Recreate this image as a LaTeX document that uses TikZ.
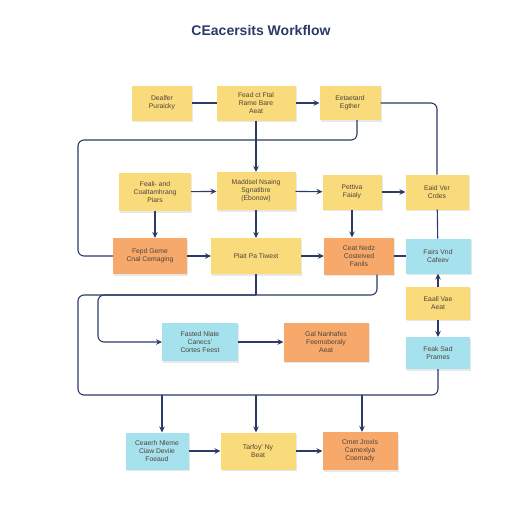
\documentclass[tikz,border=0pt]{standalone}
\usepackage{fontspec}
\setmainfont{Liberation Sans}
\usetikzlibrary{shadows,arrows.meta}

\definecolor{boxyellow}{HTML}{FADB7C}
\definecolor{boxorange}{HTML}{F7A96C}
\definecolor{boxcyan}{HTML}{A6E2EE}
\definecolor{linenavy}{HTML}{2B3A68}
\definecolor{textgray}{HTML}{4E4338}

\begin{document}
\begin{tikzpicture}[
    x=1pt, y=-1pt,
  box/.style = {
        rectangle, align=center, inner sep=2pt, outer sep=0pt,
        font=\fontsize{6.8}{7.8}\selectfont, text=textgray,
        drop shadow={opacity=0.18, shadow xshift=1.3pt, shadow yshift=-1.6pt}},
 ybox/.style = {box, fill=boxyellow},
 obox/.style = {box, fill=boxorange},
 cbox/.style = {box, fill=boxcyan},
 link/.style = {linenavy, line width=1.1pt, rounded corners=6pt},
arrow/.style = {link, -{Stealth[length=6pt,width=5.5pt]}}
                    ]
\useasboundingbox (0,0) rectangle (512,512);
% the title
\node (title) at (261,30) [font=\fontsize{14}{16}\selectfont\bfseries, text=linenavy]
                {CEacersits Workflow};
% the first row
\node (n1a) [ybox, minimum width=60pt, minimum height=35pt] at (162,103)
                {Dealfer\\Puraicky};
\node (n1b) [ybox, minimum width=79pt, minimum height=35pt] at (256,103)
                {Fead ct Ftal\\Rame Bare\\Aeat};
\node (n1c) [ybox, minimum width=61pt, minimum height=34pt] at (350,103)
                {Eetaetard\\Egther};
% the second row
\node (n2a) [ybox, minimum width=72pt, minimum height=38pt] at (155,192)
                {Feali- and\\Coaltamhrang\\Piars};
\node (n2b) [ybox, minimum width=79pt, minimum height=38pt] at (256,191)
                {Maddsel Nsaing\\Sgnatibre\\(Ebonow)};
\node (n2c) [ybox, minimum width=59pt, minimum height=35pt] at (352,192)
                {Pettiva\\Faialy};
\node (n2d) [ybox, minimum width=63pt, minimum height=35pt] at (437,192)
                {Eaid Ver\\Crdes};
% the third row
\node (n3a) [obox, minimum width=74pt, minimum height=36pt] at (150,256)
                {Fepd Geme\\Cnal Cemaging};
\node (n3b) [ybox, minimum width=90pt, minimum height=36pt] at (256,256)
                {Plait Pa Tiwext};
\node (n3c) [obox, minimum width=70pt, minimum height=37pt] at (359,256)
                {Ceat Nedz\\Costeived\\Fanils};
\node (n3d) [cbox, minimum width=65pt, minimum height=35pt] at (438,256)
                {Fairs Vnd\\Cafeev};
% the right column
\node (n4d) [ybox, minimum width=64pt, minimum height=33pt] at (438,303)
                {Eaall Vae\\Aeat};
\node (n5d) [cbox, minimum width=64pt, minimum height=32pt] at (438,353)
                {Feak Sad\\Prames};
% the middle row
\node (n4a) [cbox, minimum width=76pt, minimum height=38pt] at (200,342)
                {Fasted Nlate\\Canecs'\\Cortes Feest};
\node (n4b) [obox, minimum width=85pt, minimum height=39pt] at (326,342)
                {Gal Nanhafes\\Feemoberaly\\Aeat};
% the last row
\node (n6a) [cbox, minimum width=63pt, minimum height=37pt] at (157,451)
                {Ceaerh Nleme\\Ciaw Deviie\\Foeaud};
\node (n6b) [ybox, minimum width=75pt, minimum height=37pt] at (258,451)
                {Tarfoy' Ny\\Beat};
\node (n6c) [obox, minimum width=75pt, minimum height=38pt] at (360,451)
                {Cmet Jroxls\\Camexlya\\Coemady};
% points where the lines split
\coordinate (j1) at (256,295);
\coordinate (lb) at (78,395);
% lines of the first rows
\draw[link]  (n1a) -- (n1b);
\draw[arrow] (n1b) -- (n1c);
\draw[arrow] (n1b) -- (n2b);
\draw[link]  (n1c.east) -| (n2d.north);
\draw[link]  ([xshift=7pt] n1c.south) -- ++(0,20)
                  -| ([xshift=-35pt] n3a.west) -- (n3a.west);
\draw[arrow] (n2a) -- (n2b);
\draw[arrow] (n2b) -- (n2c);
\draw[arrow] (n2c) -- (n2d);
\draw[arrow] (n2a.south) -- (n2a.south |- n3a.north);
\draw[arrow] (n2b) -- (n3b);
\draw[arrow] (n2c.south) -- (n2c.south |- n3c.north);
\draw[link]  (n2d) -- (n3d);
\draw[arrow] (n3a) -- (n3b);
\draw[arrow] (n3b) -- (n3c);
\draw[link]  (n3c) -- (n3d);
% the right column
\draw[arrow] (n4d) -- (n3d);
\draw[arrow] (n4d) -- (n5d);
% the lines below the third row
\draw[link]  (n3b.south) -- (j1);
\draw[link]  ([xshift=18pt] n3c.south) |- (j1);
\draw[arrow] (j1) -| ([xshift=-64pt] n4a.west) -- (n4a.west);
\draw[link]  (j1) -| (lb) -| (n5d.south);
\draw[arrow] (n4a) -- (n4b);
% the arrows to the last row
\draw[arrow] ([xshift=5pt] n6a.north |- lb) -- ([xshift=5pt] n6a.north);
\draw[arrow] ([xshift=-2pt] n6b.north |- lb) -- ([xshift=-2pt] n6b.north);
\draw[arrow] ([xshift=2pt] n6c.north |- lb) -- ([xshift=2pt] n6c.north);
\draw[arrow] (n6a) -- (n6b);
\draw[arrow] (n6b) -- (n6c);
\end{tikzpicture}
\end{document}
